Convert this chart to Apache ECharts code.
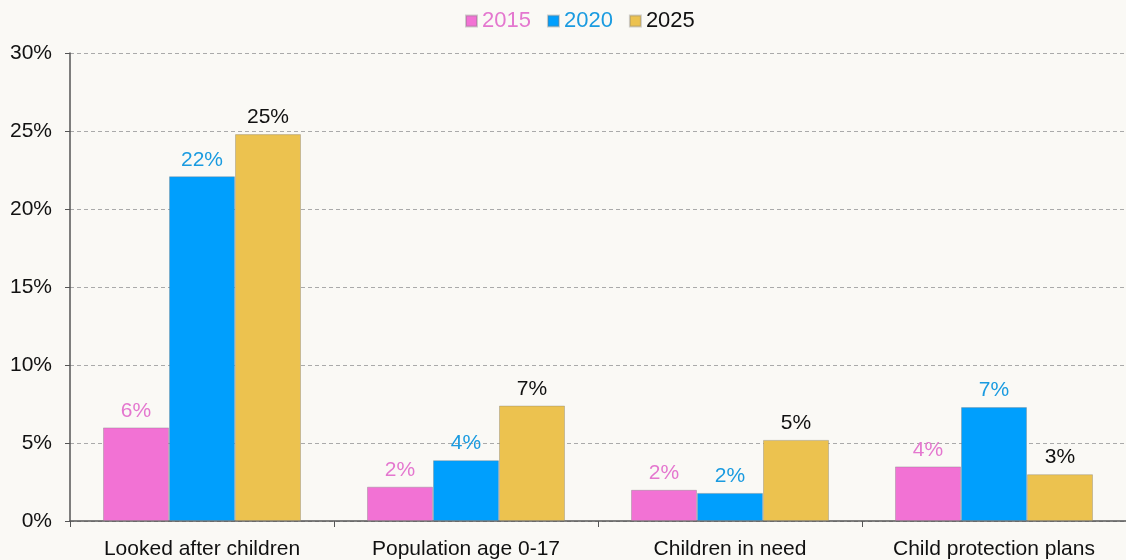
<!DOCTYPE html>
<html><head><meta charset="utf-8">
<script src="https://cdn.jsdelivr.net/npm/echarts@6/dist/echarts.min.js"></script>
<style>html,body{margin:0;padding:0;background:#faf9f5;}#c{width:1126px;height:560px;}</style>
</head><body><div id="c"></div>
<script>
const categories = ['Looked after children', 'Population age 0-17', 'Children in need', 'Child protection plans'];
const s2015 = [6.0, 2.2, 2.0, 3.5];
const s2020 = [22.1, 3.9, 1.8, 7.3];
const s2025 = [24.8, 7.4, 5.2, 3.0];
const yTicks = [0, 5, 10, 15, 20, 25, 30];

const FONT = 'Liberation Sans, Arial, sans-serif';
function mk(name, data, color, labelColor) {
  return {
    name, type: 'bar', data,
    barGap: '0%', barCategoryGap: '25%',
    itemStyle: { color, borderColor: 'rgba(120,120,120,0.35)', borderWidth: 1 },
    label: { show: true, position: 'top', distance: 6, color: labelColor, fontSize: 21, fontFamily: FONT,
      formatter: p => Math.round(p.value) + '%' }
  };
}
const chart = echarts.init(document.getElementById('c'));
chart.setOption({
  backgroundColor: '#faf9f5',
  animation: false,
  legend: {
    top: 5, left: 460, itemWidth: 11, itemHeight: 11, itemGap: 16,
    icon: 'rect',
    textStyle: { fontSize: 22, fontFamily: FONT },
    data: [
      { name: '2015', textStyle: { color: '#e477cf' } },
      { name: '2020', textStyle: { color: '#1a9be0' } },
      { name: '2025', textStyle: { color: '#111' } }
    ]
  },
  grid: { left: 70, right: -4, top: 53, bottom: 39 },
  xAxis: {
    type: 'category', data: categories,
    axisLine: { lineStyle: { color: '#555', width: 1.5 } },
    axisTick: { show: true, length: 6, lineStyle: { color: '#555' } },
    axisLabel: { color: '#111', fontSize: 21, fontFamily: FONT, margin: 18 }
  },
  yAxis: {
    type: 'value', min: 0, max: 30, interval: 5,
    axisLine: { show: true, lineStyle: { color: '#555', width: 1.5 } },
    axisTick: { show: true, length: 5, lineStyle: { color: '#555' } },
    axisLabel: { color: '#111', fontSize: 21, fontFamily: FONT, margin: 18,
      formatter: v => yTicks.includes(v) ? v + '%' : '' },
    splitLine: { show: true, lineStyle: { color: '#aaa', type: [4, 3], width: 1 } }
  },
  series: [
    mk('2015', s2015, '#f272d4', '#e477cf'),
    mk('2020', s2020, '#009ffd', '#1a9be0'),
    mk('2025', s2025, '#ecc24f', '#111')
  ]
});
</script></body></html>
